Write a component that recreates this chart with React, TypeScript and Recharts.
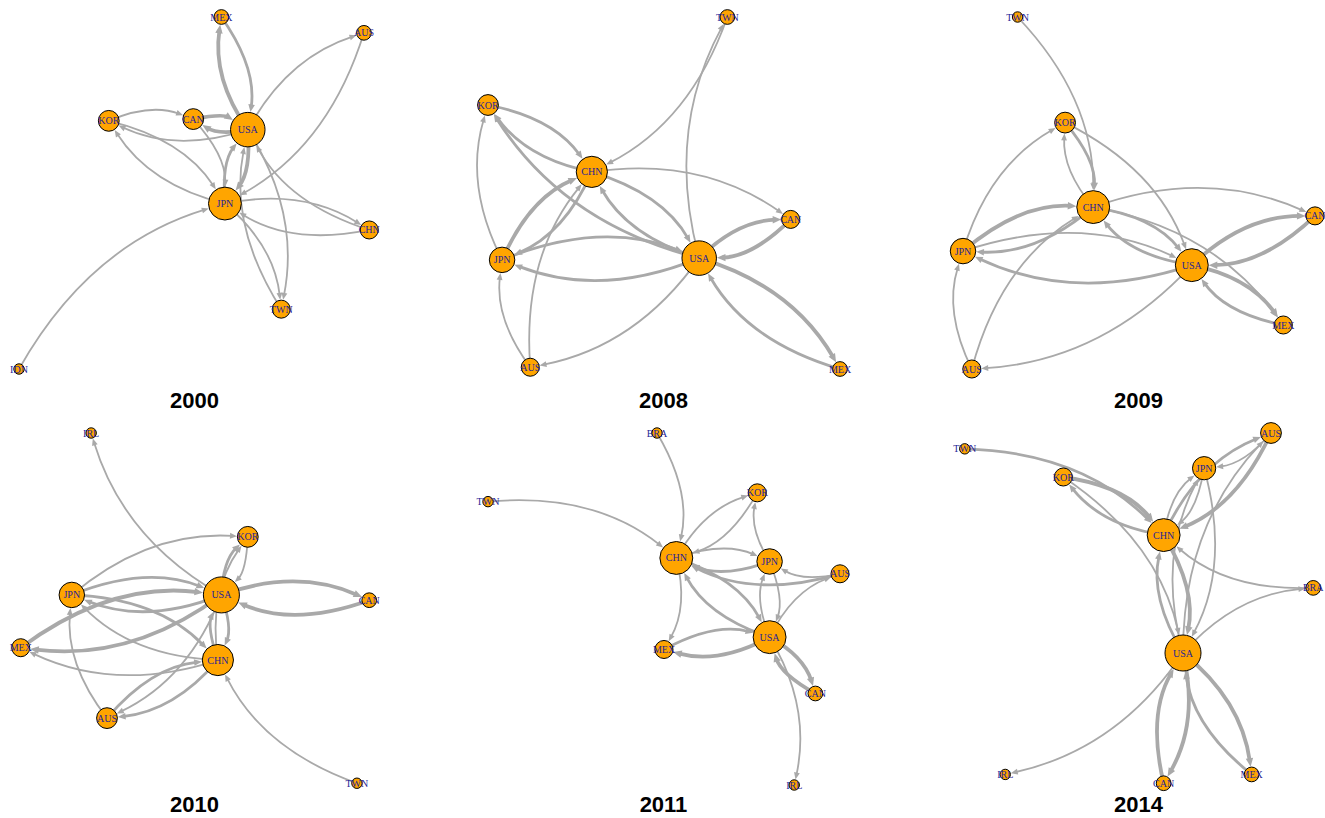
import { Scatter, ScatterChart, XAxis, YAxis } from 'recharts';

type Node = { id: string; x: number; y: number };
type Edge = [string, string, number];

// layout coordinates (igraph style, rescaled to [-1, 1]) and weighted directed edges
const years = ['2000', '2008', '2009', '2010', '2011', '2014'];

const nodes2000: Node[] = [
  { id: 'MEX', x: 0.15, y: 1.0 },
  { id: 'AUS', x: 0.96, y: 0.91 },
  { id: 'KOR', x: -0.49, y: 0.41 },
  { id: 'CAN', x: -0.01, y: 0.42 },
  { id: 'USA', x: 0.3, y: 0.36 },
  { id: 'JPN', x: 0.17, y: -0.06 },
  { id: 'CHN', x: 0.99, y: -0.21 },
  { id: 'TWN', x: 0.49, y: -0.66 },
  { id: 'IDN', x: -1.0, y: -1.0 },
];
const edges2000: Edge[] = [
  ['USA', 'MEX', 3], ['MEX', 'USA', 2], ['USA', 'AUS', 1], ['AUS', 'JPN', 1],
  ['USA', 'CAN', 3], ['CAN', 'USA', 3], ['KOR', 'CAN', 1], ['USA', 'KOR', 1],
  ['KOR', 'JPN', 1], ['JPN', 'KOR', 1], ['CAN', 'JPN', 1], ['USA', 'JPN', 3],
  ['JPN', 'USA', 2], ['JPN', 'CHN', 1], ['CHN', 'JPN', 1], ['CHN', 'USA', 1],
  ['JPN', 'TWN', 1], ['USA', 'TWN', 1], ['TWN', 'USA', 1], ['IDN', 'JPN', 1],
];

const nodes2008: Node[] = [
  { id: 'TWN', x: 0.36, y: 1.0 },
  { id: 'KOR', x: -1.0, y: 0.5 },
  { id: 'CHN', x: -0.41, y: 0.12 },
  { id: 'CAN', x: 0.72, y: -0.15 },
  { id: 'JPN', x: -0.92, y: -0.38 },
  { id: 'USA', x: 0.2, y: -0.37 },
  { id: 'AUS', x: -0.76, y: -0.99 },
  { id: 'MEX', x: 1.0, y: -1.0 },
];
const edges2008: Edge[] = [
  ['TWN', 'CHN', 1], ['USA', 'TWN', 1], ['KOR', 'CHN', 2], ['CHN', 'KOR', 2],
  ['JPN', 'KOR', 1], ['USA', 'KOR', 2], ['CHN', 'CAN', 1], ['CHN', 'USA', 2],
  ['USA', 'CHN', 2], ['JPN', 'CHN', 3], ['CHN', 'JPN', 2], ['AUS', 'CHN', 1],
  ['JPN', 'USA', 2], ['USA', 'JPN', 2], ['USA', 'AUS', 1], ['AUS', 'JPN', 1],
  ['USA', 'CAN', 3], ['CAN', 'USA', 3], ['USA', 'MEX', 3], ['MEX', 'USA', 2],
];

const nodes2009: Node[] = [
  { id: 'TWN', x: -0.69, y: 1.0 },
  { id: 'KOR', x: -0.42, y: 0.4 },
  { id: 'CHN', x: -0.26, y: -0.08 },
  { id: 'CAN', x: 1.0, y: -0.13 },
  { id: 'JPN', x: -1.0, y: -0.33 },
  { id: 'USA', x: 0.3, y: -0.41 },
  { id: 'MEX', x: 0.82, y: -0.75 },
  { id: 'AUS', x: -0.95, y: -1.0 },
];
const edges2009: Edge[] = [
  ['TWN', 'CHN', 1], ['KOR', 'CHN', 2], ['CHN', 'KOR', 1], ['JPN', 'KOR', 1],
  ['KOR', 'USA', 1], ['CHN', 'MEX', 1], ['CHN', 'CAN', 1], ['JPN', 'CHN', 3],
  ['CHN', 'JPN', 2], ['AUS', 'CHN', 1], ['JPN', 'USA', 1], ['USA', 'JPN', 2],
  ['CHN', 'USA', 2], ['USA', 'CHN', 2], ['USA', 'CAN', 3], ['CAN', 'USA', 3],
  ['USA', 'MEX', 3], ['MEX', 'USA', 2], ['USA', 'AUS', 1], ['AUS', 'JPN', 1],
];

const nodes2010: Node[] = [
  { id: 'IRL', x: -0.59, y: 1.0 },
  { id: 'KOR', x: 0.3, y: 0.41 },
  { id: 'JPN', x: -0.7, y: 0.08 },
  { id: 'USA', x: 0.15, y: 0.08 },
  { id: 'CAN', x: 0.99, y: 0.05 },
  { id: 'MEX', x: -0.99, y: -0.22 },
  { id: 'CHN', x: 0.13, y: -0.29 },
  { id: 'AUS', x: -0.5, y: -0.62 },
  { id: 'TWN', x: 0.92, y: -0.99 },
];
const edges2010: Edge[] = [
  ['USA', 'IRL', 1], ['JPN', 'KOR', 1], ['USA', 'KOR', 2], ['KOR', 'USA', 1],
  ['CHN', 'KOR', 1], ['JPN', 'USA', 2], ['USA', 'JPN', 2], ['USA', 'CAN', 3],
  ['CAN', 'USA', 3], ['MEX', 'USA', 3], ['USA', 'MEX', 3], ['JPN', 'CHN', 2],
  ['CHN', 'JPN', 1], ['CHN', 'MEX', 1], ['AUS', 'JPN', 1], ['USA', 'AUS', 1],
  ['AUS', 'CHN', 2], ['CHN', 'AUS', 2], ['USA', 'CHN', 2], ['CHN', 'USA', 2],
  ['TWN', 'CHN', 1],
];

const nodes2011: Node[] = [
  { id: 'BRA', x: -0.04, y: 1.0 },
  { id: 'TWN', x: -1.0, y: 0.61 },
  { id: 'KOR', x: 0.53, y: 0.66 },
  { id: 'CHN', x: 0.07, y: 0.29 },
  { id: 'JPN', x: 0.6, y: 0.27 },
  { id: 'AUS', x: 1.0, y: 0.2 },
  { id: 'USA', x: 0.6, y: -0.16 },
  { id: 'MEX', x: 0.0, y: -0.23 },
  { id: 'CAN', x: 0.86, y: -0.48 },
  { id: 'IRL', x: 0.74, y: -1.0 },
];
const edges2011: Edge[] = [
  ['BRA', 'CHN', 1], ['TWN', 'CHN', 1], ['CHN', 'KOR', 1], ['KOR', 'CHN', 1],
  ['JPN', 'KOR', 1], ['CHN', 'JPN', 1], ['JPN', 'CHN', 2], ['AUS', 'CHN', 2],
  ['AUS', 'JPN', 1], ['JPN', 'USA', 1], ['USA', 'JPN', 1], ['CHN', 'USA', 2],
  ['USA', 'CHN', 2], ['USA', 'AUS', 1], ['CHN', 'MEX', 1], ['USA', 'MEX', 3],
  ['MEX', 'USA', 2], ['USA', 'CAN', 3], ['CAN', 'USA', 3], ['USA', 'IRL', 1],
];

const nodes2014: Node[] = [
  { id: 'TWN', x: -0.99, y: 0.91 },
  { id: 'KOR', x: -0.43, y: 0.75 },
  { id: 'AUS', x: 0.75, y: 1.0 },
  { id: 'JPN', x: 0.37, y: 0.8 },
  { id: 'CHN', x: 0.14, y: 0.42 },
  { id: 'BRA', x: 0.99, y: 0.12 },
  { id: 'USA', x: 0.25, y: -0.25 },
  { id: 'IRL', x: -0.76, y: -0.94 },
  { id: 'CAN', x: 0.14, y: -0.99 },
  { id: 'MEX', x: 0.64, y: -0.94 },
];
const edges2014: Edge[] = [
  ['TWN', 'CHN', 2], ['KOR', 'CHN', 3], ['CHN', 'KOR', 2], ['KOR', 'USA', 1],
  ['AUS', 'JPN', 1], ['CHN', 'JPN', 1], ['JPN', 'CHN', 1], ['AUS', 'CHN', 3],
  ['CHN', 'AUS', 2], ['USA', 'AUS', 1], ['JPN', 'USA', 1], ['USA', 'JPN', 1],
  ['BRA', 'CHN', 1], ['USA', 'BRA', 1], ['CHN', 'USA', 3], ['USA', 'CHN', 2],
  ['USA', 'IRL', 1], ['USA', 'CAN', 3], ['CAN', 'USA', 3], ['USA', 'MEX', 3],
  ['MEX', 'USA', 2],
];

const panelNodes = [nodes2000, nodes2008, nodes2009, nodes2010, nodes2011, nodes2014];
const panelEdges = [edges2000, edges2008, edges2009, edges2010, edges2011, edges2014];

const COL_X = [194.5, 663.5, 1138.5];
const ROW_Y = [192.5, 608.5];
const TITLE_BASE = [409, 813];
const SIZE = 400;
const PAD = 24;

const EDGE = '#A9A9A9';
const CURVE = 0.2;

const nodeRadius = (deg: number) => 5.2 * Math.sqrt(deg);
const edgeWidth = (w: number) => 0.8 + w * 1.0;

function edgeLine(width: number, rt: number) {
  return (props: any) => {
    const pts = props.points;
    if (!pts || pts.length < 2) return <g />;
    const [p0, p1] = pts;
    const dx = p1.x - p0.x;
    const dy = p1.y - p0.y;
    const qx = (p0.x + p1.x) / 2 + CURVE * dy;
    const qy = (p0.y + p1.y) / 2 - CURVE * dx;
    const tl = Math.hypot(p1.x - qx, p1.y - qy) || 1;
    const ux = (p1.x - qx) / tl;
    const uy = (p1.y - qy) / tl;
    const ex = p1.x - ux * (rt + 0.5);
    const ey = p1.y - uy * (rt + 0.5);
    const al = 5.5 + width * 0.8;
    const aw = 2.2 + width * 0.4;
    const bx = ex - ux * al;
    const by = ey - uy * al;
    return (
      <g>
        <path
          d={`M${p0.x},${p0.y}Q${qx},${qy} ${ex - ux * al * 0.6},${ey - uy * al * 0.6}`}
          fill="none"
          stroke={EDGE}
          strokeWidth={width}
        />
        <polygon
          points={`${ex},${ey} ${bx - uy * aw},${by + ux * aw} ${bx + uy * aw},${by - ux * aw}`}
          fill={EDGE}
        />
      </g>
    );
  };
}

const NodeShape = (props: any) => {
  const { cx, cy, payload } = props;
  const r = nodeRadius(payload.deg);
  return (
    <g>
      <circle cx={cx} cy={cy} r={r} fill="#FFA500" stroke="#000" strokeWidth={1} />
      <text
        x={cx}
        y={cy}
        textAnchor="middle"
        dominantBaseline="central"
        fontFamily="'Liberation Serif', 'DejaVu Serif', serif"
        fontSize={10}
        fill="#1F1F96"
      >
        {payload.id}
      </text>
    </g>
  );
};

function NetworkPanel({ idx }: { idx: number }) {
  const edges = panelEdges[idx];
  const deg: Record<string, number> = {};
  edges.forEach(([s, t]) => {
    deg[s] = (deg[s] || 0) + 1;
    deg[t] = (deg[t] || 0) + 1;
  });
  const nodes = panelNodes[idx].map((n) => ({ ...n, deg: deg[n.id] || 1 }));
  const byId: Record<string, (typeof nodes)[number]> = {};
  nodes.forEach((n) => (byId[n.id] = n));

  const cx = COL_X[idx % 3];
  const cy = ROW_Y[Math.floor(idx / 3)];
  const base = TITLE_BASE[Math.floor(idx / 3)];

  return (
    <>
      <div style={{ position: 'absolute', left: cx - SIZE / 2, top: cy - SIZE / 2 }}>
        <ScatterChart width={SIZE} height={SIZE} margin={{ top: PAD, right: PAD, bottom: PAD, left: PAD }}>
          <XAxis type="number" dataKey="x" domain={[-1, 1]} hide />
          <YAxis type="number" dataKey="y" domain={[-1, 1]} hide />
          {edges.map(([s, t, w], i) => (
            <Scatter
              key={`e${i}`}
              data={[byId[s], byId[t]]}
              isAnimationActive={false}
              shape={() => <g />}
              line={edgeLine(edgeWidth(w), nodeRadius(byId[t].deg))}
            />
          ))}
          <Scatter data={nodes} isAnimationActive={false} shape={NodeShape} />
        </ScatterChart>
      </div>
      <div
        style={{
          position: 'absolute',
          left: cx - 60,
          width: 120,
          top: base - 18.6,
          textAlign: 'center',
          fontFamily: "'Liberation Sans', Arial, sans-serif",
          fontWeight: 'bold',
          fontSize: 22,
          lineHeight: '22px',
          color: '#000',
        }}
      >
        {years[idx]}
      </div>
    </>
  );
}

export default function App() {
  return (
    <div
      style={{
        position: 'absolute',
        left: 0,
        top: 0,
        width: 1325,
        height: 818,
        overflow: 'hidden',
        background: '#fff',
      }}
    >
      {years.map((y, i) => (
        <NetworkPanel key={y} idx={i} />
      ))}
    </div>
  );
}
